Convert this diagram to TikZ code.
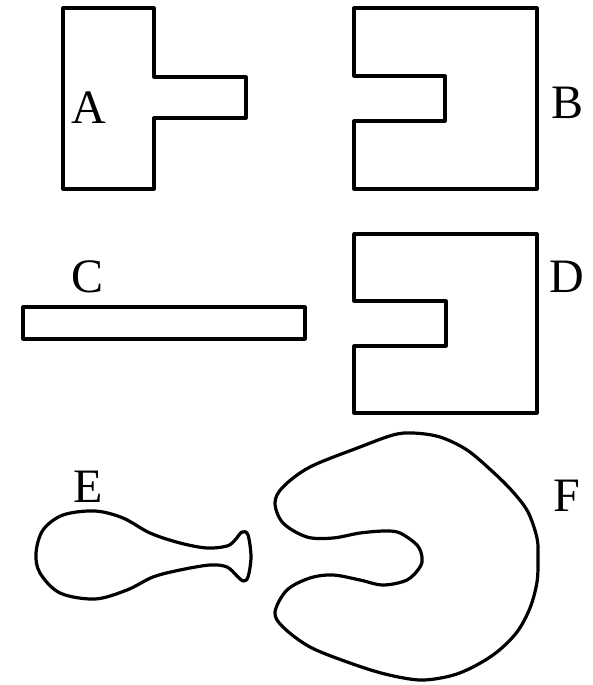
\documentclass[tikz,border=0pt]{standalone}
\usepackage{fontspec}
\setmainfont{Liberation Serif}
\begin{document}
\begin{tikzpicture}[x=1pt,y=-1pt,
  shp/.style={draw=black,line width=3.2pt,line join=round},
  lbl/.style={font=\fontsize{48}{56}\selectfont,inner sep=0pt}]
\useasboundingbox (0,0) rectangle (593,685);
% A
\draw[shp] (63,8) -- (154,8) -- (154,77) -- (246,77) -- (246,118) -- (154,118) -- (154,189) -- (63,189) -- cycle;
\node[lbl] (la) at (89,108) {A};
% B
\draw[shp] (354,8) -- (537,8) -- (537,189) -- (354,189) -- (354,121) -- (445,121) -- (445,76) -- (354,76) -- cycle;
\node[lbl] (lb) at (568,103) {B};
% C
\draw[shp] (23,307) rectangle (305,339);
\node[lbl] (lc) at (88,277) {C};
% D
\draw[shp] (354,234) -- (537,234) -- (537,413) -- (354,413) -- (354,346) -- (446,346) -- (446,301) -- (354,301) -- cycle;
\node[lbl] (ld) at (567,277) {D};
% E
\draw[shp] plot[smooth cycle,tension=0.55] coordinates {
 (95,511) (123,518) (150,533) (180,543) (207,548) (227,546) (235,540) (242,532)
 (248,535) (251,557) (248,577) (243,581) (237,576) (227,567) (210,565)
 (180,570) (153,577) (127,590) (95,599) (60,593) (40,573) (36,553) (43,530) (63,515)};
\node[lbl] (le) at (88,487) {E};
% F
\draw[shp] plot[smooth cycle,tension=0.55] coordinates {
 (413,433) (440,437) (467,450) (493,472) (513,492) (528,512) (537,538) (538,558)
 (537,582) (530,608) (517,632) (497,652) (473,667) (450,676) (420,680)
 (385,674) (350,663) (310,647) (283,627) (275,612) (287,590) (310,578) (333,575)
 (360,580) (383,585) (407,580) (420,567) (422,557) (417,545) (400,533) (385,531)
 (360,533) (333,538) (307,537) (283,523) (275,503) (283,487) (310,467) (360,447) (393,435)};
\node[lbl] (lf) at (567,496) {F};
\end{tikzpicture}
\end{document}
